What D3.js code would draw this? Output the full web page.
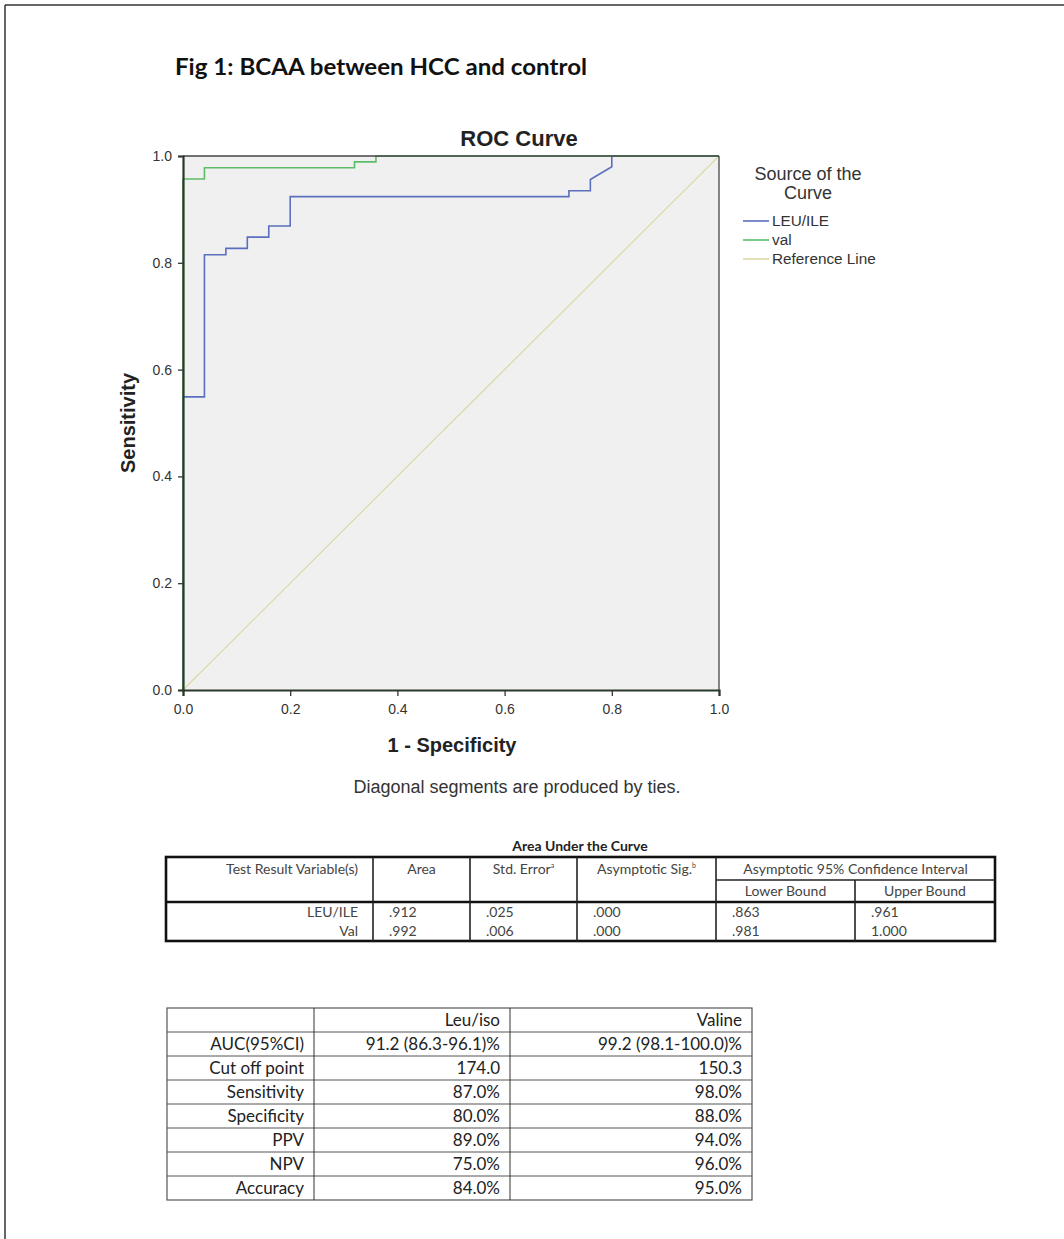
<!DOCTYPE html>
<html>
<head>
  <title>Fig 1: BCAA between HCC and control</title>
  <style>
    body { margin: 0; background: #fff; }
    svg { display: block; }
    .spss { font-family: "Liberation Sans", Arial, sans-serif; }
    .cal { font-family: Lato, "Open Sans", sans-serif; }
  </style>
  <script src="https://d3js.org/d3.v7.min.js"></script>
</head>
<body>
  <svg id="page" width="1064" height="1239"></svg>

  <script>
    // ROC curve data
    const xTicks = [0, 0.2, 0.4, 0.6, 0.8, 1.0];
    const yTicks = [0, 0.2, 0.4, 0.6, 0.8, 1.0];

    const leuFpr = [0, 0, 0.04, 0.04, 0.08, 0.08, 0.12, 0.12, 0.16, 0.16, 0.20, 0.20, 0.72, 0.72, 0.76, 0.76, 0.80, 0.80, 1.0];
    const leuTpr = [0, 0.549, 0.549, 0.815, 0.815, 0.827, 0.827, 0.848, 0.848, 0.869, 0.869, 0.924, 0.924, 0.935, 0.935, 0.956, 0.980, 1.0, 1.0];

    const valFpr = [0, 0, 0.04, 0.04, 0.32, 0.32, 0.36, 0.36, 1.0];
    const valTpr = [0, 0.957, 0.957, 0.978, 0.978, 0.989, 0.989, 1.0, 1.0];

    const refFpr = [0, 1];
    const refTpr = [0, 1];

    const legendNames = ["LEU/ILE", "val", "Reference Line"];
    const legendColors = ["#5b6fbf", "#5cbd68", "#dcd9a6"];

    // Area Under the Curve table
    const aucVars = ["LEU/ILE", "Val"];
    const aucArea = [".912", ".992"];
    const aucSE = [".025", ".006"];
    const aucSig = [".000", ".000"];
    const aucLower = [".863", ".981"];
    const aucUpper = [".961", "1.000"];

    // summary table
    const sumHeader = ["", "Leu/iso", "Valine"];
    const metricNames = ["AUC(95%CI)", "Cut off point", "Sensitivity", "Specificity", "PPV", "NPV", "Accuracy"];
    const leuIsoValues = ["91.2 (86.3-96.1)%", "174.0", "87.0%", "80.0%", "89.0%", "75.0%", "84.0%"];
    const valineValues = ["99.2 (98.1-100.0)%", "150.3", "98.0%", "88.0%", "94.0%", "96.0%", "95.0%"];

    const svg = d3.select('#page');

    // page edge
    svg.append('line').attr('x1', 5).attr('y1', 5).attr('x2', 1064).attr('y2', 5)
      .attr('stroke', '#333').attr('stroke-width', 1.5);
    svg.append('line').attr('x1', 5).attr('y1', 5).attr('x2', 5).attr('y2', 1239)
      .attr('stroke', '#333').attr('stroke-width', 1.5);

    svg.append('text').attr('class', 'cal')
      .attr('x', 175).attr('y', 75)
      .attr('font-size', 23).attr('font-weight', 'bold').attr('fill', '#111')
      .attr('textLength', 412).attr('lengthAdjust', 'spacingAndGlyphs')
      .text('Fig 1: BCAA between HCC and control');

    // ---- ROC plot ----
    const x = d3.scaleLinear().domain([0, 1]).range([183, 719]);
    const y = d3.scaleLinear().domain([0, 1]).range([690, 156]);

    svg.append('rect')
      .attr('x', x(0)).attr('y', y(1))
      .attr('width', x(1) - x(0)).attr('height', y(0) - y(1))
      .attr('fill', '#f0f0f0');

    const line = d3.line().x(d => x(d[0])).y(d => y(d[1]));

    svg.append('path')
      .attr('d', line(d3.zip(refFpr, refTpr)))
      .attr('fill', 'none').attr('stroke', legendColors[2]).attr('stroke-width', 1.2);
    svg.append('path')
      .attr('d', line(d3.zip(leuFpr, leuTpr)))
      .attr('fill', 'none').attr('stroke', legendColors[0]).attr('stroke-width', 1.6);
    svg.append('path')
      .attr('d', line(d3.zip(valFpr, valTpr)))
      .attr('fill', 'none').attr('stroke', legendColors[1]).attr('stroke-width', 1.6);

    // frame
    svg.append('line').attr('x1', x(0)).attr('x2', x(1)).attr('y1', y(1)).attr('y2', y(1))
      .attr('stroke', '#444').attr('stroke-width', 1.3);
    svg.append('line').attr('x1', x(1)).attr('x2', x(1)).attr('y1', y(1)).attr('y2', y(0))
      .attr('stroke', '#444').attr('stroke-width', 1.3);

    const xAxis = svg.append('g').attr('class', 'spss')
      .attr('transform', `translate(0,${y(0)})`)
      .call(d3.axisBottom(x).tickValues(xTicks).tickFormat(d3.format('.1f')).tickSize(6).tickPadding(8));
    const yAxis = svg.append('g').attr('class', 'spss')
      .attr('transform', `translate(${x(0)},0)`)
      .call(d3.axisLeft(y).tickValues(yTicks).tickFormat(d3.format('.1f')).tickSize(5).tickPadding(6));

    [xAxis, yAxis].forEach(g => {
      g.select('.domain').attr('stroke', '#2a3a2a').attr('stroke-width', 2.2);
      g.selectAll('.tick line').attr('stroke', '#333').attr('stroke-width', 1.3);
      g.selectAll('.tick text').attr('font-size', 14).attr('fill', '#333')
        .attr('font-family', '"Liberation Sans", Arial, sans-serif');
    });

    svg.append('text').attr('class', 'spss')
      .attr('x', 519).attr('y', 146).attr('text-anchor', 'middle')
      .attr('font-size', 22).attr('font-weight', 'bold').attr('fill', '#222')
      .text('ROC Curve');

    svg.append('text').attr('class', 'spss')
      .attr('transform', 'translate(135,423) rotate(-90)')
      .attr('text-anchor', 'middle')
      .attr('font-size', 20).attr('font-weight', 'bold').attr('fill', '#222')
      .text('Sensitivity');

    svg.append('text').attr('class', 'spss')
      .attr('x', 452).attr('y', 752).attr('text-anchor', 'middle')
      .attr('font-size', 20).attr('font-weight', 'bold').attr('fill', '#222')
      .text('1 - Specificity');

    svg.append('text').attr('class', 'spss')
      .attr('x', 517).attr('y', 793).attr('text-anchor', 'middle')
      .attr('font-size', 18).attr('fill', '#333')
      .text('Diagonal segments are produced by ties.');

    // legend
    const legTitle = svg.append('text').attr('class', 'spss')
      .attr('text-anchor', 'middle').attr('font-size', 18).attr('fill', '#333');
    legTitle.append('tspan').attr('x', 808).attr('y', 180).text('Source of the');
    legTitle.append('tspan').attr('x', 808).attr('y', 199).text('Curve');

    const leg = svg.append('g').selectAll('g')
      .data(legendNames).enter().append('g')
      .attr('transform', (d, i) => `translate(743,${221 + i * 19})`);
    leg.append('line').attr('x1', 0).attr('x2', 26)
      .attr('stroke', (d, i) => legendColors[i]).attr('stroke-width', 1.6);
    leg.append('text').attr('class', 'spss')
      .attr('x', 29).attr('y', 5).attr('font-size', 15.3).attr('fill', '#333')
      .text(d => d);

    // ---- Area Under the Curve table ----
    const aucCols = [166, 373, 470, 577, 716, 855, 995];
    const aucRows = [857, 880, 902, 941];
    const tSize = 14;
    const tCol = '#444';

    svg.append('text').attr('class', 'cal')
      .attr('x', 580).attr('y', 851).attr('text-anchor', 'middle')
      .attr('font-size', 14).attr('font-weight', 'bold').attr('fill', '#222')
      .text('Area Under the Curve');

    const auc = svg.append('g').attr('class', 'cal');
    // outer box and thick rule
    auc.append('rect').attr('x', aucCols[0]).attr('y', aucRows[0])
      .attr('width', aucCols[6] - aucCols[0]).attr('height', aucRows[3] - aucRows[0])
      .attr('fill', 'none').attr('stroke', '#111').attr('stroke-width', 2.6);
    auc.append('line').attr('x1', aucCols[0]).attr('x2', aucCols[6])
      .attr('y1', aucRows[2]).attr('y2', aucRows[2])
      .attr('stroke', '#111').attr('stroke-width', 2.6);
    auc.append('line').attr('x1', aucCols[4]).attr('x2', aucCols[6])
      .attr('y1', aucRows[1]).attr('y2', aucRows[1])
      .attr('stroke', '#222').attr('stroke-width', 1.6);
    aucCols.slice(1, 6).forEach((c, i) => {
      auc.append('line').attr('x1', c).attr('x2', c)
        .attr('y1', i === 4 ? aucRows[1] : aucRows[0]).attr('y2', aucRows[3])
        .attr('stroke', '#222').attr('stroke-width', 1.6);
    });

    const head = [
      { t: 'Test Result Variable(s)', x: 358, a: 'end' },
      { t: 'Area', x: (aucCols[1] + aucCols[2]) / 2, a: 'middle' },
      { t: 'Std. Error', sup: 'a', x: (aucCols[2] + aucCols[3]) / 2, a: 'middle' },
      { t: 'Asymptotic Sig.', sup: 'b', x: (aucCols[3] + aucCols[4]) / 2, a: 'middle' },
      { t: 'Asymptotic 95% Confidence Interval', x: (aucCols[4] + aucCols[6]) / 2, a: 'middle' }
    ];
    head.forEach(h => {
      const t = auc.append('text').attr('x', h.x).attr('y', 874)
        .attr('text-anchor', h.a).attr('font-size', tSize).attr('fill', tCol).text(h.t);
      if (h.sup) t.append('tspan').attr('font-size', 7).attr('dy', -6).text(h.sup);
    });
    ['Lower Bound', 'Upper Bound'].forEach((s, i) => {
      auc.append('text').attr('x', (aucCols[4 + i] + aucCols[5 + i]) / 2).attr('y', 896)
        .attr('text-anchor', 'middle').attr('font-size', tSize).attr('fill', tCol).text(s);
    });

    aucVars.forEach((v, r) => {
      const yy = 917 + r * 19;
      auc.append('text').attr('x', 358).attr('y', yy).attr('text-anchor', 'end')
        .attr('font-size', tSize).attr('fill', tCol).text(v);
      [aucArea, aucSE, aucSig, aucLower, aucUpper].forEach((col, c) => {
        auc.append('text').attr('x', aucCols[c + 1] + 16).attr('y', yy)
          .attr('font-size', tSize).attr('fill', tCol).text(col[r]);
      });
    });

    // ---- summary table ----
    const sCols = [167, 314, 510, 752];
    const sTop = 1008;
    const sRowH = 24;
    const sRows = [sumHeader].concat(metricNames.map((m, i) => [m, leuIsoValues[i], valineValues[i]]));

    const sum = svg.append('g').attr('class', 'cal');
    sum.append('rect').attr('x', sCols[0]).attr('y', sTop)
      .attr('width', sCols[3] - sCols[0]).attr('height', sRowH * sRows.length)
      .attr('fill', 'none').attr('stroke', '#555').attr('stroke-width', 1.2);
    d3.range(1, sRows.length).forEach(r => {
      sum.append('line').attr('x1', sCols[0]).attr('x2', sCols[3])
        .attr('y1', sTop + r * sRowH).attr('y2', sTop + r * sRowH)
        .attr('stroke', '#555').attr('stroke-width', 1);
    });
    sCols.slice(1, 3).forEach(c => {
      sum.append('line').attr('x1', c).attr('x2', c)
        .attr('y1', sTop).attr('y2', sTop + sRowH * sRows.length)
        .attr('stroke', '#333').attr('stroke-width', 1);
    });
    sRows.forEach((row, r) => {
      row.forEach((cell, c) => {
        sum.append('text').attr('x', sCols[c + 1] - 10).attr('y', sTop + r * sRowH + 18)
          .attr('text-anchor', 'end').attr('font-size', 17).attr('fill', '#222')
          .text(cell);
      });
    });
  </script>
</body>
</html>
